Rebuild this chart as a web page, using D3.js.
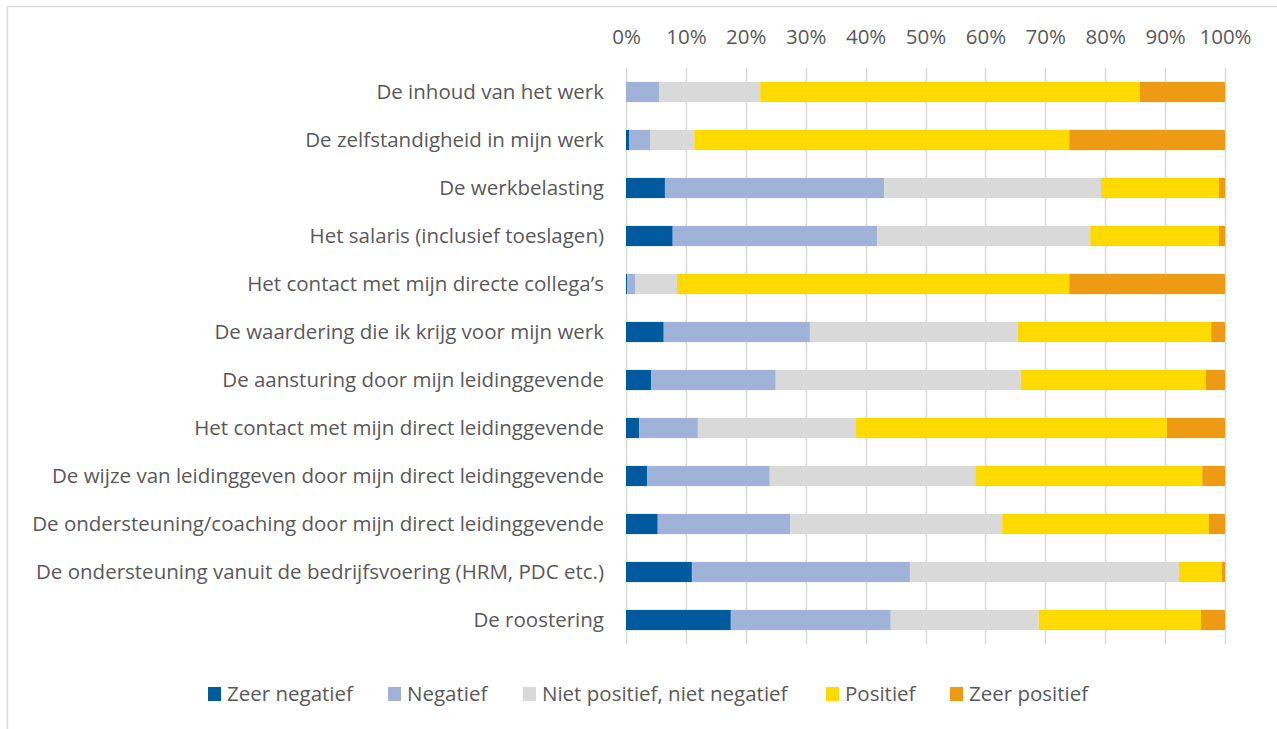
<!DOCTYPE html>
<html>
<head>
<meta charset="utf-8">
<script src="https://cdn.jsdelivr.net/npm/d3@7"></script>
<style>
  body { margin: 0; background: #fff; }
  svg { display: block; }
  svg text { font-family: "Open Sans", "Noto Sans", sans-serif; }
</style>
</head>
<body>
<svg id="chart" width="1277" height="729"></svg>
<script>
const categories = [
    "De inhoud van het werk",
    "De zelfstandigheid in mijn werk",
    "De werkbelasting",
    "Het salaris (inclusief toeslagen)",
    "Het contact met mijn directe collega\u2019s",
    "De waardering die ik krijg voor mijn werk",
    "De aansturing door mijn leidinggevende",
    "Het contact met mijn direct leidinggevende",
    "De wijze van leidinggeven door mijn direct leidinggevende",
    "De ondersteuning/coaching door mijn direct leidinggevende",
    "De ondersteuning vanuit de bedrijfsvoering (HRM, PDC etc.)",
    "De roostering"
];

const seriesNames = ["Zeer negatief", "Negatief", "Niet positief, niet negatief", "Positief", "Zeer positief"];
const seriesColors = ["#005A9E", "#9FB3D8", "#D9D9D9", "#FFDA00", "#EE9A12"];

// percentages per series, same order as categories
const zeerNegatief = [0, 0.5, 6.5, 7.8, 0.2, 6.3, 4.2, 2.2, 3.5, 5.3, 11.0, 17.5];
const negatief     = [5.5, 3.5, 36.6, 34.1, 1.3, 24.4, 20.8, 9.8, 20.5, 22.1, 36.4, 26.7];
const neutraal     = [16.9, 7.4, 36.2, 35.6, 7.0, 34.7, 40.9, 26.4, 34.3, 35.4, 44.9, 24.7];
const positief     = [63.4, 62.6, 19.7, 21.5, 65.5, 32.3, 30.9, 51.9, 37.9, 34.5, 7.2, 27.1];
const zeerPositief = [14.2, 26.0, 1.0, 1.0, 26.0, 2.3, 3.2, 9.7, 3.8, 2.7, 0.5, 4.0];

const tickValues = [0, 0.1, 0.2, 0.3, 0.4, 0.5, 0.6, 0.7, 0.8, 0.9, 1];

const seriesValues = [zeerNegatief, negatief, neutraal, positief, zeerPositief];
const rows = categories.map((c, i) => {
    const r = { cat: c };
    let total = 0;
    seriesValues.forEach(s => total += s[i]);
    seriesNames.forEach((n, k) => r[n] = seriesValues[k][i] / total);
    return r;
});

const svg = d3.select("#chart");
const fontSize = "20.5px";
const textColor = "#595959";

// outer border of the chart area
svg.append("path")
    .attr("d", "M7.5,729 L7.5,6.5 L1277,6.5")
    .attr("fill", "none")
    .attr("stroke", "#d9d9d9")
    .attr("stroke-width", 1.5);

const x = d3.scaleLinear().domain([0, 1]).range([626, 1225]);
const y = d3.scaleBand().domain(categories).range([68, 644]).paddingInner(0.58).paddingOuter(0.29);

// grid
svg.append("g")
    .selectAll("line")
    .data(tickValues)
    .enter().append("line")
    .attr("x1", d => Math.round(x(d)) + 0.5)
    .attr("x2", d => Math.round(x(d)) + 0.5)
    .attr("y1", 68)
    .attr("y2", 644)
    .attr("stroke", "#d9d9d9")
    .attr("stroke-width", 1.5);

// top axis
const xAxis = svg.append("g")
    .attr("transform", "translate(0,37)")
    .call(d3.axisTop(x).tickValues(tickValues).tickFormat(d3.format(".0%")).tickSize(0).tickPadding(0));
xAxis.select(".domain").remove();
xAxis.selectAll("text")
    .attr("dy", "0.35em")
    .attr("fill", textColor)
    .style("font-size", fontSize);

// category labels
const yAxis = svg.append("g")
    .attr("transform", "translate(604,0)")
    .call(d3.axisLeft(y).tickSize(0).tickPadding(0));
yAxis.select(".domain").remove();
yAxis.selectAll("text")
    .attr("fill", textColor)
    .style("font-size", fontSize);

// stacked bars
const stack = d3.stack().keys(seriesNames);
const layers = stack(rows);

svg.append("g")
    .selectAll("g")
    .data(layers)
    .enter().append("g")
    .attr("fill", (d, i) => seriesColors[i])
    .selectAll("rect")
    .data(d => d)
    .enter().append("rect")
    .attr("x", d => x(d[0]))
    .attr("width", d => x(d[1]) - x(d[0]))
    .attr("y", d => y(d.data.cat))
    .attr("height", y.bandwidth());

// legend
const legendX = [208, 388, 523, 826, 950];
const legend = svg.append("g")
    .selectAll("g")
    .data(seriesNames)
    .enter().append("g")
    .attr("transform", (d, i) => `translate(${legendX[i]},694)`);

legend.append("rect")
    .attr("x", 0)
    .attr("y", -7)
    .attr("width", 13)
    .attr("height", 14)
    .attr("fill", (d, i) => seriesColors[i]);

legend.append("text")
    .attr("x", 19)
    .attr("dy", "0.35em")
    .attr("fill", textColor)
    .style("font-size", fontSize)
    .text(d => d);
</script>
</body>
</html>
